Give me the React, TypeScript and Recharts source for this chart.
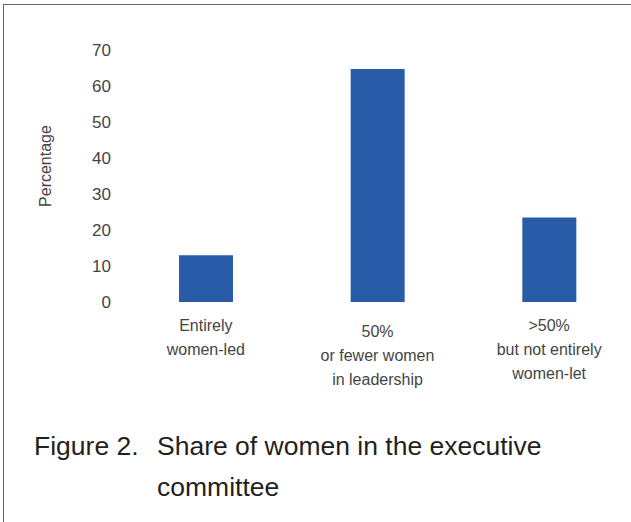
import { BarChart, Bar, XAxis, YAxis, Label } from 'recharts'

// categories (each label split into its printed lines)
const categories = ['Entirely women-led', '50% or fewer women in leadership', '>50% but not entirely women-let']
const categoryLines = [
  ['Entirely', 'women-led'],
  ['50%', 'or fewer women', 'in leadership'],
  ['>50%', 'but not entirely', 'women-let'],
]
const percentages = [13, 64.7, 23.5]
const yTicks = [0, 10, 20, 30, 40, 50, 60, 70]

const data = categories.map((name, i) => ({ name, idx: i, value: percentages[i] }))

const FONT = '"Liberation Sans", Arial, Helvetica, sans-serif'

// the middle label sits a little lower in the original figure
const lineShift = [0, 6, 0]

function CategoryTick({ x, y, payload }: any) {
  const i = payload.value as number
  const lines = categoryLines[i] || []
  return (
    <g>
      {lines.map((line, k) => (
        <text
          key={k}
          x={x}
          y={y + 29 + lineShift[i] + k * 24}
          textAnchor="middle"
          fontFamily={FONT}
          fontSize={16}
          fill="#444"
        >
          {line}
        </text>
      ))}
    </g>
  )
}

export default function App() {
  return (
    <div style={{ position: 'absolute', left: 0, top: 0, width: 631, height: 522, overflow: 'hidden', background: '#fff' }}>
      {/* frame */}
      <div style={{ position: 'absolute', left: 3, top: 4, width: 640, height: 530, borderTop: '1.5px solid #666', borderLeft: '1.5px solid #666' }} />

      <div style={{ position: 'absolute', left: 0, top: 0 }}>
        <BarChart width={640} height={420} data={data} margin={{ top: 50, right: 5, bottom: 0, left: 0 }}>
          <XAxis
            dataKey="idx"
            axisLine={false}
            tickLine={false}
            tickSize={0}
            tickMargin={0}
            height={118}
            interval={0}
            tick={<CategoryTick />}
          />
          <YAxis
            type="number"
            domain={[0, 70]}
            ticks={yTicks}
            axisLine={false}
            tickLine={false}
            tickSize={0}
            tickMargin={9}
            width={120}
            tick={{ fontFamily: FONT, fontSize: 17, fill: '#444' }}
          >
            <Label
              content={({ viewBox }: any) => {
                const cx = viewBox.x + 45
                const cy = viewBox.y + viewBox.height / 2 - 10
                return (
                  <text
                    x={cx}
                    y={cy}
                    transform={`rotate(-90 ${cx} ${cy})`}
                    textAnchor="middle"
                    dominantBaseline="central"
                    fontFamily={FONT}
                    fontSize={16}
                    fill="#444"
                  >
                    Percentage
                  </text>
                )
              }}
            />
          </YAxis>
          <Bar dataKey="value" fill="#285ba8" barSize={54} isAnimationActive={false} />
        </BarChart>
      </div>

      {/* caption */}
      <svg width={631} height={522} style={{ position: 'absolute', left: 0, top: 0, pointerEvents: 'none' }}>
        <g fontFamily={FONT} fontSize={26.5} fill="#231f20">
          <text x={34} y={455}>Figure 2.</text>
          <text x={157} y={455}>Share of women in the executive</text>
          <text x={157} y={496}>committee</text>
        </g>
      </svg>
    </div>
  )
}
